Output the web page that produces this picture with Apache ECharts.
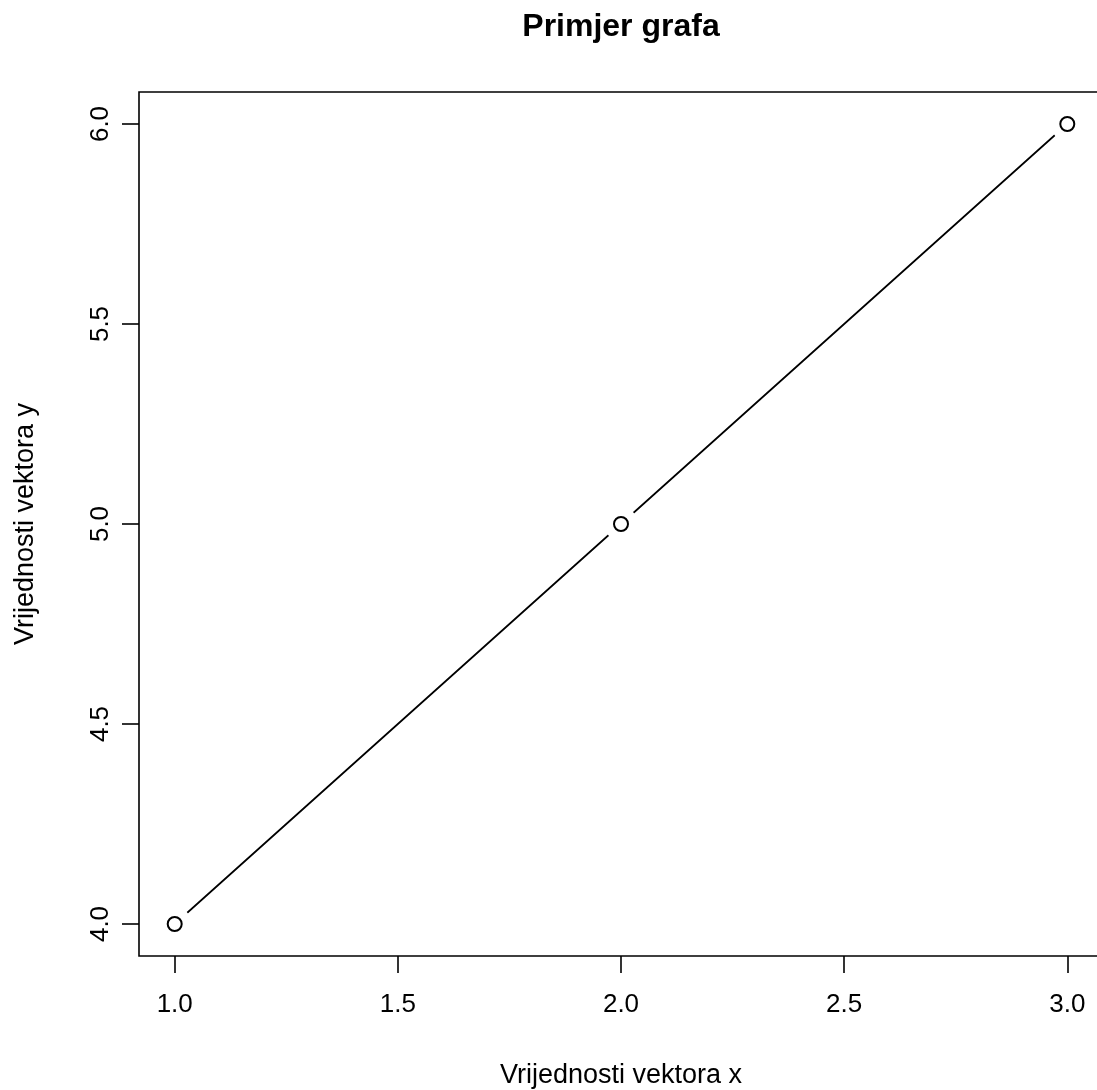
<!DOCTYPE html>
<html>
<head>
<meta charset="utf-8">
<script src="https://cdn.jsdelivr.net/npm/echarts@6/dist/echarts.min.js"></script>
<style>
html,body{margin:0;padding:0;background:#fff;}
#chart{width:1097px;height:1090px;}
</style>
</head>
<body>
<div id="chart"></div>
<script>
const xValues = [1, 2, 3];
const yValues = [4, 5, 6];
const xTicks = [1.0, 1.5, 2.0, 2.5, 3.0];
const yTicks = [4.0, 4.5, 5.0, 5.5, 6.0];
const titleText = 'Primjer grafa';
const xName = 'Vrijednosti vektora x';
const yName = 'Vrijednosti vektora y';

const pts = xValues.map((x, i) => [x, yValues[i]]);
const FONT = 'Liberation Sans, Arial, sans-serif';

const chart = echarts.init(document.getElementById('chart'), null, {renderer: 'canvas'});
chart.setOption({
  animation: false,
  backgroundColor: '#fff',
  graphic: [{
    type: 'text',
    style: {
      text: titleText, x: 621, y: 27,
      textAlign: 'center', textVerticalAlign: 'middle',
      font: 'bold 32px ' + FONT, fill: '#000'
    }
  }],
  grid: {
    left: 139, top: 92, width: 964, height: 864,
    outerBoundsMode: 'none', containLabel: false,
    show: true, borderColor: '#000', borderWidth: 1.6, backgroundColor: 'transparent'
  },
  xAxis: {
    type: 'value', min: 0.92, max: 3.08,
    axisLine: {show: false},
    splitLine: {show: false},
    axisTick: {show: true, length: 17, customValues: xTicks, lineStyle: {color: '#000', width: 1.6}},
    axisLabel: {
      customValues: xTicks, margin: 36, color: '#000', fontSize: 26, fontFamily: FONT,
      formatter: v => v.toFixed(1)
    },
    name: xName, nameLocation: 'middle', nameGap: 106,
    nameTextStyle: {color: '#000', fontSize: 27, fontFamily: FONT}
  },
  yAxis: {
    type: 'value', min: 3.92, max: 6.08,
    axisLine: {show: false},
    splitLine: {show: false},
    axisTick: {show: true, length: 17, customValues: yTicks, lineStyle: {color: '#000', width: 1.6}},
    axisLabel: {
      customValues: yTicks, margin: 25, rotate: 90, color: '#000', fontSize: 26, fontFamily: FONT,
      formatter: v => v.toFixed(1)
    },
    name: yName, nameLocation: 'middle', nameGap: 100, nameRotate: 90,
    nameTextStyle: {color: '#000', fontSize: 27, fontFamily: FONT}
  },
  series: [
    {
      type: 'line', data: pts, showSymbol: false, symbol: 'none',
      lineStyle: {color: '#000', width: 1.7}, z: 1, silent: true
    },
    {
      type: 'scatter', data: pts, symbol: 'circle', symbolSize: 34,
      itemStyle: {color: '#fff', opacity: 1}, z: 2, silent: true
    },
    {
      type: 'scatter', data: pts, symbol: 'circle', symbolSize: 14,
      itemStyle: {color: '#fff', borderColor: '#000', borderWidth: 2, opacity: 1}, z: 3, silent: true
    }
  ]
});
</script>
</body>
</html>
